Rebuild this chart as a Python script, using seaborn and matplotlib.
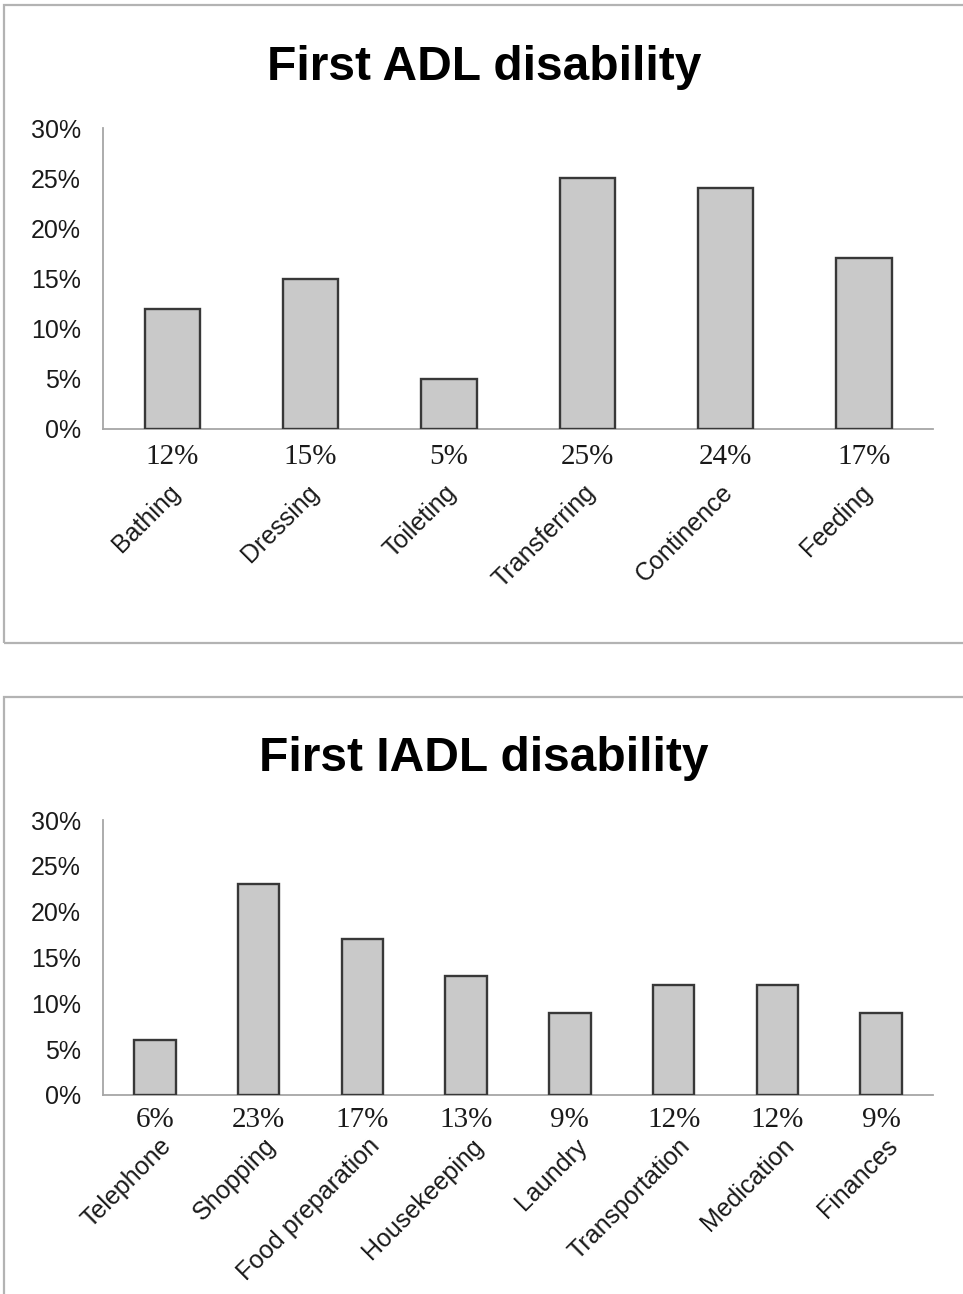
import matplotlib
matplotlib.use("Agg")
import matplotlib.pyplot as plt
from matplotlib.patches import Rectangle
from matplotlib.ticker import PercentFormatter, MultipleLocator
import seaborn as sns
import pandas as pd

# First ADL disability (percent of respondents)
adl_categories = ["Bathing", "Dressing", "Toileting", "Transferring", "Continence", "Feeding"]
adl_values = [12, 15, 5, 25, 24, 17]

# First IADL disability (percent of respondents)
iadl_categories = ["Telephone", "Shopping", "Food preparation", "Housekeeping",
                   "Laundry", "Transportation", "Medication", "Finances"]
iadl_values = [6, 23, 17, 13, 9, 12, 12, 9]

sns.set_theme(style="white")
plt.rcParams["font.family"] = ["Liberation Sans", "DejaVu Sans"]

W, H = 963, 1294
fig = plt.figure(figsize=(W / 100, H / 100), dpi=100)
fig.patch.set_facecolor("white")

BAR_FILL = "#c9c9c9"
BAR_EDGE = "#383838"
AXIS_GREY = "#a6a6a6"
FRAME_GREY = "#b3b3b3"
TEXT = "#1a1a1a"


def px_rect(left, top, right, bottom):
    """Figure-fraction [l, b, w, h] from pixel edges (origin top-left)."""
    return [left / W, 1 - bottom / H, (right - left) / W, (bottom - top) / H]


def panel_frame(top, bottom):
    l, b, w, h = px_rect(4, top, W + 20, bottom)
    fig.patches.append(Rectangle((l, b), w, h, transform=fig.transFigure,
                                 fill=False, edgecolor=FRAME_GREY, linewidth=1.6,
                                 zorder=0, clip_on=False))


def draw_panel(ax, cats, vals, title, title_baseline, label_dx, label_dy, value_offset):
    df = pd.DataFrame({"category": cats, "value": vals})
    sns.barplot(data=df, x="category", y="value", ax=ax, width=0.4,
                color=BAR_FILL, saturation=1, edgecolor=BAR_EDGE, linewidth=1.7,
                zorder=3)
    ax.set_xlim(-0.5, len(cats) - 0.5)
    ax.set_ylim(0, 30)
    ax.yaxis.set_major_locator(MultipleLocator(5))
    ax.yaxis.set_major_formatter(PercentFormatter(100, decimals=0))
    ax.set_xlabel("")
    ax.set_ylabel("")
    ax.set_xticks(range(len(cats)))
    ax.set_xticklabels([])
    for side in ("top", "right"):
        ax.spines[side].set_visible(False)
    for side in ("left", "bottom"):
        ax.spines[side].set_color(AXIS_GREY)
        ax.spines[side].set_linewidth(1.3)
    ax.tick_params(axis="y", length=0, pad=16, labelsize=18, labelcolor=TEXT)
    ax.tick_params(axis="x", length=0)

    trans = ax.get_xaxis_transform()
    for i, (c, v) in enumerate(zip(cats, vals)):
        # percentage written under each bar
        ax.annotate(f"{v}%", xy=(i, 0), xycoords=trans,
                    xytext=(0, -value_offset), textcoords="offset points",
                    ha="center", va="center", fontsize=21,
                    family=["Liberation Serif", "DejaVu Serif"], color=TEXT)
        # slanted category name
        ax.annotate(c, xy=(i, 0), xycoords=trans,
                    xytext=(label_dx, -label_dy), textcoords="offset points",
                    ha="right", va="center", rotation=45, rotation_mode="anchor",
                    fontsize=18, color=TEXT)

    fig.text(484 / W, 1 - title_baseline / H, title, ha="center", va="baseline",
             fontsize=34.5, fontweight="bold", color="black")


panel_frame(5, 643)
panel_frame(697, H + 20)

ax_top = fig.add_axes(px_rect(103, 128, 933, 429))
draw_panel(ax_top, adl_categories, adl_values, "First ADL disability",
           80, 3, 43, 20)

ax_bot = fig.add_axes(px_rect(103, 820, 933, 1095))
draw_panel(ax_bot, iadl_categories, iadl_values, "First IADL disability",
           771, 9.5, 34, 18)

fig.savefig("out.png", dpi=100, facecolor="white")
